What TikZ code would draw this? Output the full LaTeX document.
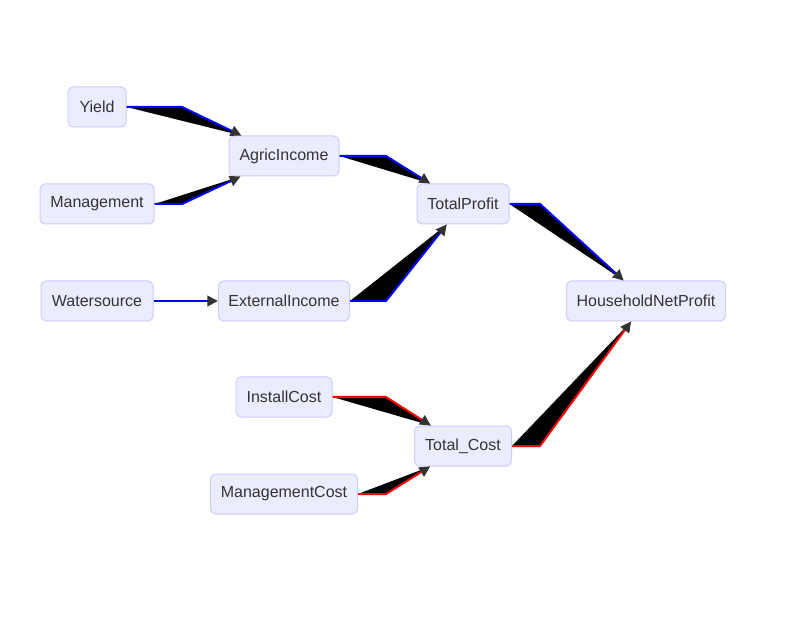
\documentclass[tikz,border=0pt]{standalone}
\usepackage{fontspec}
\setmainfont{Liberation Sans}
\usetikzlibrary{arrows.meta,calc}
\definecolor{nodefill}{HTML}{ECECFF}
\definecolor{nodeline}{HTML}{CCCCFF}
\definecolor{txt}{HTML}{333333}
\definecolor{tipc}{HTML}{333333}
\tikzset{
  box/.style={draw=nodeline, fill=nodefill, rounded corners=3.75pt, line width=0.75pt,
    text=txt, font=\fontsize{12}{14}\selectfont, minimum height=30pt, inner sep=0pt},
  lnk/.style={line width=1.5pt, -{Triangle[length=8pt,width=8pt,color=tipc]}},
  bl/.style={lnk, draw=blue},
  rd/.style={lnk, draw=red},
  wedge/.style={fill=black}
}
\begin{document}
\begin{tikzpicture}[x=0.75pt,y=-0.75pt]
\useasboundingbox[fill=white] (0,0) rectangle (810,623);
\node[box, minimum width=43.5pt] (yield) at (97,107) {Yield};
\node[box, minimum width=82.5pt] (agric) at (284,156) {AgricIncome};
\node[box, minimum width=85.5pt] (mgmt) at (97,204) {Management};
\node[box, minimum width=69pt] (tprofit) at (463,204) {TotalProfit};
\node[box, minimum width=84pt] (water) at (97,301) {Watersource};
\node[box, minimum width=98.25pt] (ext) at (284,301) {ExternalIncome};
\node[box, minimum width=119.25pt] (hnp) at (646,301) {HouseholdNetProfit};
\node[box, minimum width=72pt] (inst) at (284,397) {InstallCost};
\node[box, minimum width=72.75pt] (tcost) at (463,446) {Total\_Cost};
\node[box, minimum width=110.25pt] (mcost) at (284,494) {ManagementCost};
\coordinate (b1) at (182,0);
\coordinate (b2) at (386,0);
\coordinate (b3) at (540,0);
% wedges
\fill[wedge] (yield.east) -- (yield.east -| b1) -- (agric) -- cycle;
\fill[wedge] (mgmt.east) -- (mgmt.east -| b1) -- (agric) -- cycle;
\fill[wedge] (agric.east) -- (agric.east -| b2) -- (tprofit) -- cycle;
\fill[wedge] (ext.east) -- (ext.east -| b2) -- (tprofit) -- cycle;
\fill[wedge] (tprofit.east) -- (tprofit.east -| b3) -- (hnp) -- cycle;
\fill[wedge] (inst.east) -- (inst.east -| b2) -- (tcost) -- cycle;
\fill[wedge] (mcost.east) -- (mcost.east -| b2) -- (tcost) -- cycle;
\fill[wedge] (tcost.east) -- (tcost.east -| b3) -- (hnp) -- cycle;
% lines
\draw[bl] (yield.east) -- (yield.east -| b1) -- (agric);
\draw[bl] (mgmt.east) -- (mgmt.east -| b1) -- (agric);
\draw[bl] (agric.east) -- (agric.east -| b2) -- (tprofit);
\draw[bl] (ext.east) -- (ext.east -| b2) -- (tprofit);
\draw[bl] (tprofit.east) -- (tprofit.east -| b3) -- (hnp);
\draw[bl] (water) -- (ext);
\draw[rd] (inst.east) -- (inst.east -| b2) -- (tcost);
\draw[rd] (mcost.east) -- (mcost.east -| b2) -- (tcost);
\draw[rd] (tcost.east) -- (tcost.east -| b3) -- (hnp);
\end{tikzpicture}
\end{document}
